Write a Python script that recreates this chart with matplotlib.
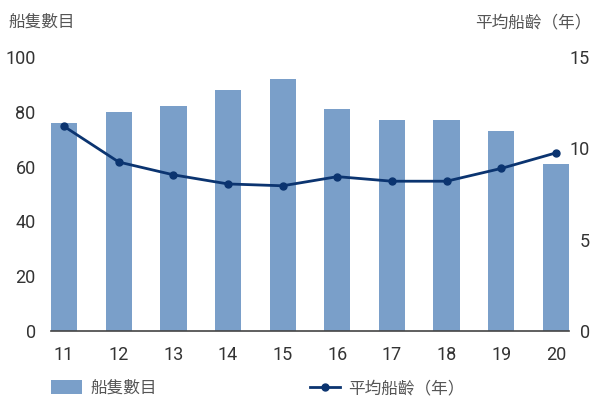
import matplotlib.pyplot as plt
import numpy as np

plt.rcParams['font.family'] = ['Roboto', 'Noto Sans CJK TC', 'DejaVu Sans']

# data
years = ['11', '12', '13', '14', '15', '16', '17', '18', '19', '20']
ships = [76, 80, 82, 88, 92, 81, 77, 77, 73, 61]
avg_age = [11.2, 9.25, 8.55, 8.05, 7.95, 8.45, 8.2, 8.2, 8.9, 9.75]

bar_color = '#7a9fc9'
line_color = '#0b3470'
text_color = '#333333'
label_color = '#555555'

fig = plt.figure(figsize=(5.93, 4.0), dpi=100)
ax = fig.add_axes([51/593, 1 - 331/400, (569 - 51)/593, (331 - 57)/400])
x = np.arange(len(years))
bars = ax.bar(x, ships, width=0.48, color=bar_color, label='船隻數目', zorder=2)
ax.set_xlim(-0.24, len(years) - 1 + 0.24)
ax.set_ylim(0, 100)
ax.set_yticks([0, 20, 40, 60, 80, 100])
ax.set_xticks(x)
ax.set_xticklabels(years)

ax2 = ax.twinx()
line, = ax2.plot(x, avg_age, '-o', color=line_color, lw=2, markersize=5,
                 label='平均船齡（年）', zorder=3)
ax2.set_ylim(0, 15)
ax2.set_yticks([0, 5, 10, 15])

for a in (ax, ax2):
    for s in ('top', 'left', 'right', 'bottom'):
        a.spines[s].set_visible(False)
ax.spines['bottom'].set_visible(True)
ax.spines['bottom'].set_color('#444444')
ax.spines['bottom'].set_linewidth(1.2)

ax.tick_params(axis='both', length=0, labelsize=13, colors=text_color)
ax.tick_params(axis='y', pad=11)
ax.tick_params(axis='x', pad=11)
ax2.tick_params(axis='y', length=0, labelsize=13, colors=text_color, pad=15)
for t in ax2.get_yticklabels():
    t.set_horizontalalignment('right')

fig.text(8/593, 1 - 22/400, '船隻數目', fontsize=12, color=label_color,
         ha='left', va='center')
fig.text(592/593, 1 - 22/400, '平均船齡（年）', fontsize=12, color=label_color,
         ha='right', va='center')

# legends, placed separately like the reference
leg1 = fig.legend(handles=[bars], loc='center left',
                  bbox_to_anchor=(51/593, 1 - 388/400), frameon=False,
                  fontsize=12, borderpad=0, borderaxespad=0,
                  handlelength=1.86, handleheight=0.85, handletextpad=0.48,
                  labelcolor=label_color)
fig.legend(handles=[line], loc='center left',
           bbox_to_anchor=(310/593, 1 - 388/400), frameon=False,
           fontsize=12, borderpad=0, borderaxespad=0,
           handlelength=1.8, handletextpad=0.48, labelcolor=label_color)

fig.savefig('out.png', dpi=100, facecolor='white')
